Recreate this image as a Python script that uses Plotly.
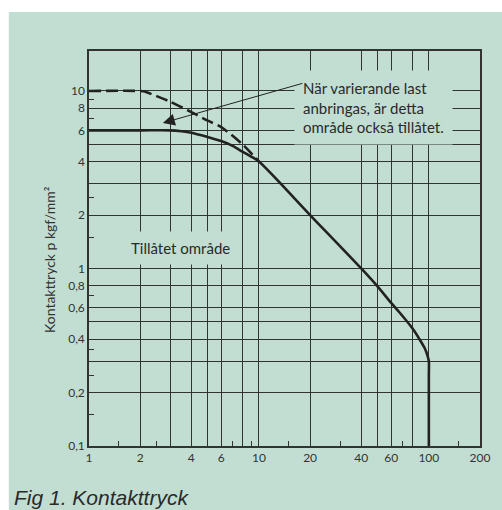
import plotly.graph_objects as go
import math

# ---- data ----
x_solid = [1, 2, 3, 3.5, 4, 5, 6, 7, 8, 9, 10, 20, 40, 50, 60, 70, 80, 88, 94.6, 98.5, 100, 100, 100]
y_solid = [6, 6, 6, 5.93, 5.82, 5.5, 5.22, 4.9, 4.55, 4.27, 4.0, 2.0, 1.0, 0.79, 0.64, 0.54, 0.46, 0.4, 0.355, 0.32, 0.3, 0.25, 0.1]

x_dashed = [1, 2, 2.1, 2.5, 3, 4, 5, 6, 8, 10]
y_dashed = [10, 10, 9.95, 9.35, 8.7, 7.6, 6.8, 6.25, 5.0, 4.0]

x_grid = [1, 2, 3, 4, 5, 6, 8, 10, 20, 40, 50, 60, 80, 100, 200]
x_labels = ["1", "2", "", "4", "", "6", "", "10", "20", "40", "", "60", "", "100", "200"]
x_minor = [1.5, 2.5, 7, 9, 15, 30, 70, 150]

y_grid = [0.1, 0.2, 0.3, 0.4, 0.5, 0.6, 0.8, 1, 2, 3, 4, 5, 6, 8, 10]
y_labels = ["0,1", "0,2", "", "0,4", "", "0,6", "0,8", "1", "2", "", "4", "", "6", "8", "10"]
y_minor = [0.15, 0.25, 0.35, 0.7, 1.5, 2.5, 7, 9]

y_title = "Kontakttryck p kgf/mm²"
region_text = "Tillåtet område"
note_text = "När varierande last<br>anbringas, är detta<br>område också tillåtet."
caption = "Fig 1. Kontakttryck"
arrow_target = (2.72, 6.6)
region_pos = (3.46, 1.30)

BG = "#c2ded2"
INK = "#222222"
GRID = "#333333"
FONT = "Lato, 'Open Sans', sans-serif"

fig = go.Figure()
fig.add_trace(go.Scatter(x=x_solid, y=y_solid, mode="lines",
                         line=dict(color=INK, width=2.6, shape="spline", smoothing=0.8),
                         hoverinfo="skip"))
fig.add_trace(go.Scatter(x=x_dashed, y=y_dashed, mode="lines",
                         line=dict(color=INK, width=2.6, shape="spline", smoothing=0.8,
                                   dash="12px,5px"),
                         hoverinfo="skip"))

# plot area geometry (pixels)
W, H = 502, 510
L, R, T, B = 89, 18, 51, 64
pw, ph = W - L - R, H - T - B

def px(xp):
    return (xp - L) / pw

def py(yp):
    return (H - B - yp) / ph

fig.update_layout(
    width=W, height=H,
    margin=dict(l=L, r=R, t=T, b=B),
    paper_bgcolor=BG, plot_bgcolor="rgba(0,0,0,0)",
    showlegend=False,
    font=dict(family=FONT, color="#333333", size=12),
    xaxis=dict(type="log", range=[0, math.log10(200)],
               tickmode="array", tickvals=x_grid, ticktext=x_labels,
               showgrid=True, gridcolor=GRID, gridwidth=1.4,
               showline=True, linecolor=GRID, linewidth=1.5, mirror=True,
               ticks="", zeroline=False,
               tickfont=dict(size=12, color="#333333", family=FONT),
               minor=dict(tickmode="array", tickvals=x_minor, ticks="inside",
                          ticklen=5, tickwidth=1.2, tickcolor=GRID, showgrid=False)),
    yaxis=dict(type="log", range=[-1, 1.225],
               tickmode="array", tickvals=y_grid, ticktext=y_labels,
               showgrid=True, gridcolor=GRID, gridwidth=1.4,
               showline=True, linecolor=GRID, linewidth=1.5, mirror=True,
               ticks="", zeroline=False,
               tickfont=dict(size=12, color="#333333", family=FONT),
               minor=dict(tickmode="array", tickvals=y_minor, ticks="inside",
                          ticklen=5, tickwidth=1.2, tickcolor=GRID, showgrid=False)),
    shapes=[
        dict(type="rect", xref="paper", yref="paper", layer="below",
             x0=px(-5), x1=px(8), y0=py(H + 5), y1=py(-5),
             fillcolor="white", line=dict(width=0)),
        dict(type="rect", xref="paper", yref="paper", layer="below",
             x0=px(-5), x1=px(W + 5), y0=py(12), y1=py(-5),
             fillcolor="white", line=dict(width=0)),
    ],
)

annotations = [
    # note box covering the grid
    dict(text=note_text, xref="paper", yref="paper", x=px(296), y=py(70),
         xanchor="left", yanchor="top", align="left", showarrow=False,
         bgcolor=BG, borderpad=8,
         font=dict(size=15, color="#2a2a2a", family=FONT)),
    # arrow from note to the dashed region
    dict(text="", x=math.log10(arrow_target[0]), y=math.log10(arrow_target[1]),
         xref="x", yref="y", showarrow=True, axref="pixel", ayref="pixel",
         ax=141, ay=-40, arrowhead=2, arrowsize=2.4, arrowwidth=1,
         arrowcolor=INK, standoff=0, startstandoff=0),
    # region label
    dict(text=region_text, x=math.log10(region_pos[0]), y=math.log10(region_pos[1]),
         xref="x", yref="y", showarrow=False, bgcolor=BG, borderpad=7,
         font=dict(size=15, color="#2a2a2a", family=FONT)),
    # y-axis title
    dict(text=y_title, xref="paper", yref="paper", x=px(38), y=py(260),
         textangle=-90, showarrow=False,
         font=dict(size=14, color="#333333", family=FONT)),
    # caption
    dict(text="<i>" + caption + "</i>", xref="paper", yref="paper", x=px(11), y=py(497),
         xanchor="left", yanchor="middle", showarrow=False,
         font=dict(size=21, color="#2a2a2a", family="Liberation Sans, Arial, sans-serif")),
]
fig.update_layout(annotations=annotations)

fig.write_html("out.html",
               config={"displayModeBar": False},
               post_script="document.body.style.margin='0';"
                           "document.documentElement.style.overflow='hidden';")
